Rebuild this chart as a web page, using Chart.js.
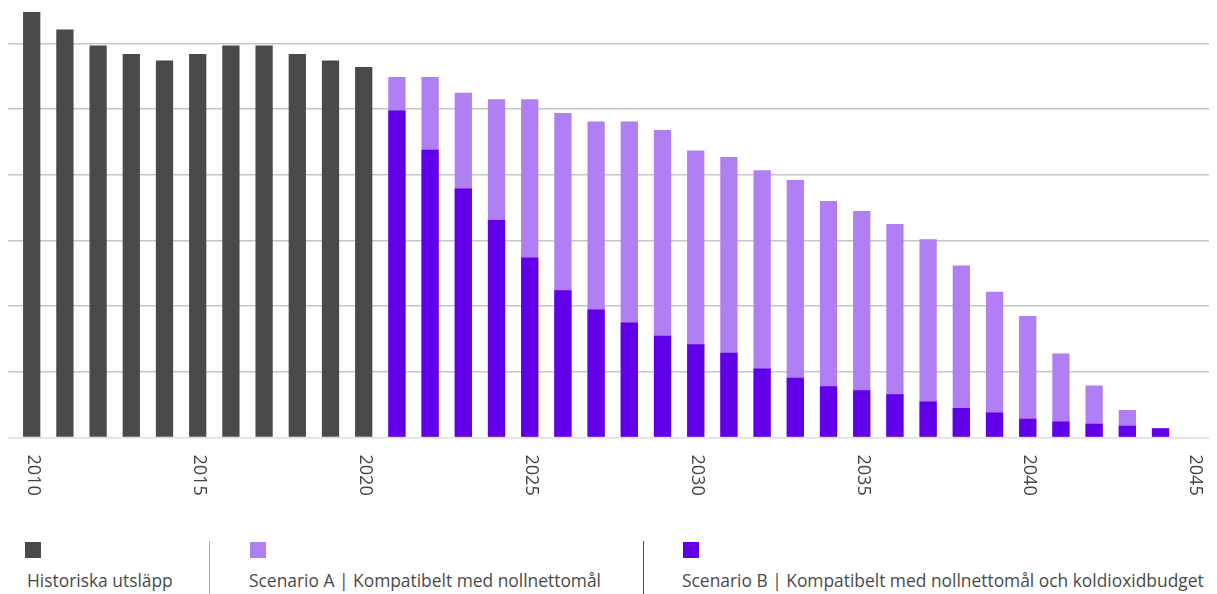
<!DOCTYPE html>
<html lang="sv">
<head>
  <meta charset="UTF-8" />
  <title>Utsläpp och scenarier</title>
  <script src="https://cdn.jsdelivr.net/npm/chart.js"></script>
  <style>
    * { margin: 0; padding: 0; box-sizing: border-box; }
    body {
      width: 1217px;
      height: 594px;
      overflow: hidden;
      background: #fff;
      font-family: 'Open Sans', sans-serif;
      color: #4a4a4a;
      position: relative;
    }
    .chart-box {
      position: absolute;
      left: 0;
      top: 0;
      width: 1217px;
      height: 520px;
    }
    .swatch {
      position: absolute;
      top: 542px;
      width: 16px;
      height: 16px;
    }
    .legend-text {
      position: absolute;
      top: 570px;
      font-size: 17.4px;
      line-height: 20px;
      white-space: nowrap;
    }
    .sep {
      position: absolute;
      top: 541px;
      width: 1px;
      height: 53px;
    }
  </style>
</head>
<body>
  <div class="chart-box">
    <canvas id="emissions"></canvas>
  </div>

  <!-- legend -->
  <div class="swatch" style="left:25px; background:#4a4a4a;"></div>
  <div class="legend-text" style="left:27px;">Historiska utsläpp</div>
  <div class="sep" style="left:209px; background:#aaa;"></div>
  <div class="swatch" style="left:250px; background:#b07ff4;"></div>
  <div class="legend-text" style="left:249px;">Scenario A | Kompatibelt med nollnettomål</div>
  <div class="sep" style="left:643px; background:#555;"></div>
  <div class="swatch" style="left:683px; background:#6100e8;"></div>
  <div class="legend-text" style="left:682px;">Scenario B | Kompatibelt med nollnettomål och koldioxidbudget</div>

  <script>
    const years = [2010, 2011, 2012, 2013, 2014, 2015, 2016, 2017, 2018, 2019,
                   2020, 2021, 2022, 2023, 2024, 2025, 2026, 2027, 2028, 2029,
                   2030, 2031, 2032, 2033, 2034, 2035, 2036, 2037, 2038, 2039,
                   2040, 2041, 2042, 2043, 2044, 2045];
    const tickYears = [2010, 2015, 2020, 2025, 2030, 2035, 2040, 2045];

    // 2010-2020
    const historical = [64.8, 62.1, 59.7, 58.4, 57.4, 58.4, 59.7, 59.7, 58.4, 57.4, 56.4];
    // 2021-2044
    const scenarioA = [54.9, 54.9, 52.5, 51.5, 51.5, 49.4, 48.1, 48.1, 46.8, 43.7,
                       42.7, 40.7, 39.2, 36.0, 34.5, 32.5, 30.2, 26.2, 22.2, 18.5,
                       12.8, 7.9, 4.2, 1.4];
    const scenarioB = [49.8, 43.8, 37.9, 33.1, 27.4, 22.4, 19.5, 17.5, 15.5, 14.2,
                       12.9, 10.5, 9.1, 7.8, 7.2, 6.6, 5.5, 4.5, 3.8, 2.85,
                       2.45, 2.1, 1.8, 1.4];

    const firstScenarioYear = 2021;

    function fullSeries(values, startYear) {
      return years.map(y => {
        const i = y - startYear;
        return i >= 0 && i < values.length ? values[i] : null;
      });
    }

    // rotated year labels (read top to bottom)
    const yearLabels = {
      id: 'yearLabels',
      afterDraw(chart) {
        const ctx = chart.ctx;
        const xs = chart.scales.x;
        ctx.save();
        ctx.font = '18px "Open Sans"';
        ctx.fillStyle = '#444';
        ctx.textAlign = 'left';
        ctx.textBaseline = 'middle';
        tickYears.forEach(yr => {
          ctx.save();
          ctx.translate(xs.getPixelForValue(yr) + 1, chart.chartArea.bottom + 17);
          ctx.rotate(Math.PI / 2);
          ctx.fillText(String(yr), 0, 0);
          ctx.restore();
        });
        ctx.restore();
      }
    };

    const barOpts = { grouped: false, barPercentage: 0.52, categoryPercentage: 1, borderWidth: 0 };

    new Chart(document.getElementById('emissions'), {
      type: 'bar',
      data: {
        labels: years,
        datasets: [
          Object.assign({ label: 'Scenario B', data: fullSeries(scenarioB, firstScenarioYear), backgroundColor: '#6100e8', order: 0 }, barOpts),
          Object.assign({ label: 'Scenario A', data: fullSeries(scenarioA, firstScenarioYear), backgroundColor: '#b07ff4', order: 1 }, barOpts),
          Object.assign({ label: 'Historiska utsläpp', data: fullSeries(historical, 2010), backgroundColor: '#4a4a4a', order: 2 }, barOpts)
        ]
      },
      options: {
        responsive: true,
        maintainAspectRatio: false,
        animation: false,
        layout: { padding: { left: 8, right: 8, top: 4, bottom: 82.5 } },
        plugins: {
          legend: { display: false },
          tooltip: { enabled: false }
        },
        scales: {
          x: {
            type: 'linear',
            offset: false,
            min: 2009.286,
            max: 2045.46,
            grid: { display: false },
            border: { display: false },
            ticks: { display: false },
            afterFit: s => { s.height = 0; }
          },
          y: {
            min: 0,
            max: 66,
            ticks: { display: false, stepSize: 10 },
            border: { display: false },
            grid: {
              drawTicks: false,
              lineWidth: 1.5,
              color: c => c.tick.value === 0 ? '#dddddd' : (c.tick.value % 10 === 0 ? '#c6c6c6' : 'rgba(0,0,0,0)')
            },
            afterFit: s => { s.width = 0; }
          }
        }
      },
      plugins: [yearLabels]
    });
  </script>
</body>
</html>
